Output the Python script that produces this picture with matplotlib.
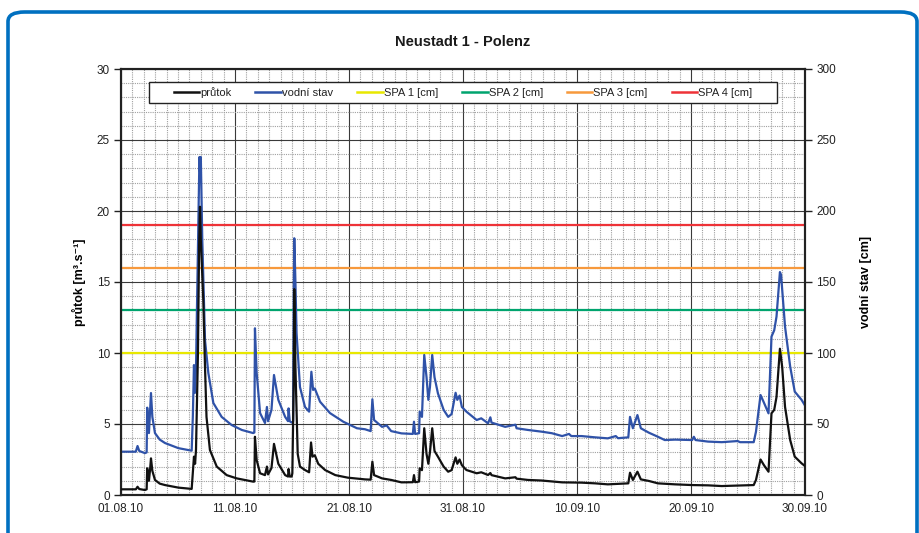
import numpy as np
import pandas as pd
import matplotlib
matplotlib.use('Agg')
import matplotlib.pyplot as plt
import matplotlib.dates as mdates
from matplotlib.patches import FancyBboxPatch, Rectangle
from matplotlib.ticker import MultipleLocator
from matplotlib.lines import Line2D

plt.rcParams['font.family'] = ['Liberation Sans', 'DejaVu Sans']

start = pd.Timestamp('2010-08-01')

# vodní stav [cm] : day offsets from 01.08.2010 and values
stav_days = [0, 1.3, 1.45, 1.6, 2.1, 2.25, 2.3, 2.45, 2.55, 2.63, 2.75, 2.98, 3.4, 3.86, 5.03, 6.2,
             6.3, 6.4, 6.5, 6.58, 6.8, 6.88, 6.95, 7.0, 7.13, 7.37, 7.66, 8.1, 8.83, 9.7, 10.6, 11.6,
             11.7, 11.75, 11.9, 12.2, 12.63, 12.8, 12.9, 13.2, 13.42, 13.8, 14.4, 14.65, 14.7, 14.8,
             14.97, 15.1, 15.15, 15.2, 15.3, 15.4, 15.7, 16.14, 16.5, 16.7, 16.85, 17.0, 17.46, 18.33,
             19.5, 20.7, 21.4, 21.9, 22.05, 22.2, 22.9, 23.3, 23.7, 24.6, 25.6, 25.7, 25.8, 26.15,
             26.2, 26.4, 26.6, 26.8, 26.96, 27.1, 27.3, 27.5, 27.8, 28.3, 28.7, 29.0, 29.35, 29.5,
             29.7, 29.9, 30.3, 31.2, 31.6, 32.2, 32.4, 32.5, 33.7, 34.6, 34.7, 35.7, 36.9, 37.8,
             38.7, 39.3, 39.5, 40.4, 41.6, 42.7, 43.4, 43.6, 44.5, 44.65, 44.9, 45.3, 45.6, 46.3,
             47.1, 47.7, 48.6, 50.1, 50.25, 50.4, 51.5, 52.7, 54.1, 54.3, 55.5, 55.7, 56.1, 56.4,
             56.8, 57.06, 57.3, 57.5, 57.8, 57.9, 58.25, 58.7, 59.1, 59.7, 60]
stav_cm = [30.5, 30.5, 34.5, 31, 29.5, 30, 61.5, 43.6, 60, 71.8, 55, 43.6, 39, 36.6, 33, 31.2,
           55, 91.5, 72, 90, 200, 238, 225, 238, 179.6, 109, 86, 64.8, 55, 49.3, 45.8, 43.6,
           44, 117.4, 86, 57.7, 50.7, 62, 52, 60, 84.5, 67, 55, 52, 61, 52,
           51, 52, 139.7, 180.8, 150, 114, 76, 62, 58.7, 86.8, 74, 75, 65.7, 57.7,
           51.6, 47, 46.3, 45, 67.4, 52.8, 48, 49, 45, 43.4, 43, 51.6, 43, 43.5,
           58.7, 55, 98.6, 83, 67, 76, 98.6, 83, 71.6, 60, 55, 57, 72, 67,
           70, 62, 58.7, 52.8, 54, 50.5, 54.7, 51, 48, 49.5, 47, 45.8, 44.6, 43.5,
           41.5, 43, 41.5, 41.5, 40.6, 39.9, 41.5, 40, 40.6, 55, 47, 56.3, 47, 43.9,
           41, 38.7, 39, 38.7, 41, 38.7, 37.6, 37.2, 38, 37.2, 37.2, 44.6, 70.4, 65,
           57.5, 111.5, 116, 125.6, 157, 155, 118.5, 90.4, 72.8, 67, 63]

# průtok [m3/s]
prutok_days = [0, 1.3, 1.45, 1.6, 2.1, 2.25, 2.3, 2.45, 2.55, 2.63, 2.75, 2.98, 3.4, 3.86, 5.03, 6.2,
               6.3, 6.4, 6.5, 6.58, 6.75, 6.85, 6.93, 7.0, 7.22, 7.37, 7.5, 7.8, 8.4, 9.27, 10.15, 11.6,
               11.7, 11.75, 11.9, 12.2, 12.63, 12.8, 12.9, 13.2, 13.42, 13.8, 14.4, 14.65, 14.7, 14.8,
               14.97, 15.03, 15.15, 15.2, 15.3, 15.5, 15.7, 16.14, 16.5, 16.67, 16.8, 17.0, 17.3, 17.9,
               18.8, 19.9, 21.4, 21.9, 22.05, 22.2, 22.9, 23.7, 24.6, 25.6, 25.7, 25.8, 26.15, 26.2,
               26.4, 26.6, 26.8, 26.96, 27.1, 27.3, 27.5, 27.8, 28.3, 28.7, 29.0, 29.35, 29.5, 29.7,
               29.9, 30.3, 31.2, 31.6, 32.2, 32.4, 32.5, 33.7, 34.6, 34.7, 35.7, 36.9, 38.7, 40.4,
               41.6, 42.7, 44.5, 44.65, 44.9, 45.3, 45.6, 46.3, 47.1, 48.6, 50.1, 51.5, 52.7, 55.5,
               55.7, 56.1, 56.4, 56.8, 57.06, 57.3, 57.5, 57.8, 58.0, 58.25, 58.7, 59.1, 59.7, 60]
prutok_val = [0.4, 0.4, 0.58, 0.42, 0.35, 0.4, 1.88, 1.0, 1.8, 2.58, 1.7, 1.06, 0.8, 0.7, 0.52, 0.43,
              1.53, 2.7, 2.2, 3.2, 10, 17.5, 20.3, 18, 13.7, 9, 5.5, 3.17, 2.0, 1.4, 1.17, 0.94,
              0.95, 4.1, 2.46, 1.53, 1.4, 2.0, 1.45, 1.9, 3.6, 2.2, 1.4, 1.3, 1.83, 1.3,
              1.3, 1.53, 8, 14.5, 9, 2.9, 2.0, 1.76, 1.6, 3.7, 2.7, 2.8, 2.2, 1.76,
              1.4, 1.22, 1.1, 1.08, 2.35, 1.4, 1.17, 1.06, 0.89, 0.9, 1.4, 0.9, 0.95, 1.88,
              1.75, 4.7, 2.9, 2.2, 3.0, 4.7, 3.1, 2.7, 2.0, 1.64, 1.75, 2.65, 2.2, 2.5,
              2.1, 1.76, 1.53, 1.6, 1.41, 1.55, 1.4, 1.17, 1.25, 1.15, 1.06, 1.02, 0.89, 0.87,
              0.82, 0.75, 0.82, 1.57, 1.06, 1.64, 1.1, 0.99, 0.82, 0.75, 0.7, 0.68, 0.63, 0.7,
              1.06, 2.5, 2.1, 1.64, 5.75, 6.0, 6.9, 10.3, 9.0, 6.2, 3.87, 2.7, 2.23, 2.04]

spa_levels = [100, 130, 160, 190]
spa_labels = ['SPA 1 [cm]', 'SPA 2 [cm]', 'SPA 3 [cm]', 'SPA 4 [cm]']
spa_colors = ['#E8E800', '#00A46E', '#F7993C', '#EE3338']

title = 'Neustadt 1 - Polenz'
left_label = 'průtok [m³.s⁻¹]'
right_label = 'vodní stav [cm]'
x_start, x_end = '2010-08-01', '2010-09-30'

t_stav = start + pd.to_timedelta(stav_days, unit='D')
t_prutok = start + pd.to_timedelta(prutok_days, unit='D')

fig = plt.figure(figsize=(9.19, 5.33), dpi=100)
W, H = 919, 533

# blue rounded frame
frame = FancyBboxPatch((8 / W, 1 - 560 / H), (917 - 8) / W, (560 - 12) / H,
                       boxstyle='round,pad=0,rounding_size=0.018',
                       transform=fig.transFigure, fill=False, edgecolor='#0070C0',
                       linewidth=2.6, clip_on=False)
fig.patches.append(frame)

ax = fig.add_axes([121 / W, 1 - 495 / H, (805 - 121) / W, (495 - 69) / H])
ax2 = ax.twinx()
ax.set_zorder(ax2.get_zorder() + 1)
ax.patch.set_visible(False)
ax2.xaxis.set_visible(True)

ax2.set_ylim(0, 300)
ax.set_ylim(0, 30)
ax.set_xlim(pd.Timestamp(x_start), pd.Timestamp(x_end))

ax2.yaxis.set_major_locator(MultipleLocator(50))
ax2.yaxis.set_minor_locator(MultipleLocator(10))
ax.yaxis.set_major_locator(MultipleLocator(5))
ax.xaxis.set_major_locator(mdates.DayLocator(interval=10))
ax.xaxis.set_minor_locator(mdates.DayLocator(interval=1))
ax.xaxis.set_major_formatter(mdates.DateFormatter('%d.%m.%y'))

# gridlines on the lower axes
ax2.set_axisbelow(True)
grid_minor = dict(color='#a0a0a0', linestyle=(0, (1, 1)), linewidth=0.8)
grid_major = dict(color='#3a3a3a', linestyle='-', linewidth=0.8)
ax2.yaxis.grid(True, which='minor', **grid_minor)
ax2.yaxis.grid(True, which='major', **grid_major)
ax2.xaxis.grid(True, which='minor', **grid_minor)
ax2.xaxis.grid(True, which='major', **grid_major)
ax2.tick_params(axis='x', which='both', length=0, labelbottom=False)

for lvl, c in zip(spa_levels, spa_colors):
    ax2.axhline(lvl, color=c, linewidth=1.6, zorder=2)

ax2.plot(t_stav, stav_cm, color='#2F52A8', linewidth=1.6, zorder=3)
ax.plot(t_prutok, prutok_val, color='#111111', linewidth=1.6, zorder=3)

for a in (ax, ax2):
    for s in a.spines.values():
        s.set_linewidth(1.5)
        s.set_color('#222222')

ax.tick_params(axis='y', which='major', direction='out', length=5, width=1, labelsize=8.5,
               colors='#222222', pad=3)
ax2.tick_params(axis='y', which='major', direction='out', length=5, width=1, labelsize=8.5,
                colors='#222222', pad=3)
ax2.tick_params(axis='y', which='minor', length=0)
ax.tick_params(axis='x', which='major', direction='out', length=0, labelsize=8.5,
               colors='#222222', pad=6)
ax.tick_params(axis='x', which='minor', length=0)

ax.set_ylabel(left_label, fontsize=9, fontweight='bold', labelpad=8)
ax2.set_ylabel(right_label, fontsize=9, fontweight='bold', labelpad=17)
fig.text(463 / W, 1 - 42 / H, title, fontsize=10.5, fontweight='bold', ha='center', va='center',
         color='#1a1a1a')

# legend box (white, framed) and entries
lx0, lx1, ly0, ly1 = 149, 777, 82, 103
box = Rectangle(((lx0 - 121) / 684, (495 - ly1) / 426), (lx1 - lx0) / 684, (ly1 - ly0) / 426,
                transform=ax.transAxes, facecolor='white', edgecolor='#222222', linewidth=1.0,
                zorder=9, clip_on=False)
ax.add_patch(box)
handles = [Line2D([], [], color='#111111', lw=1.8), Line2D([], [], color='#2F52A8', lw=1.8)]
handles += [Line2D([], [], color=c, lw=1.8) for c in spa_colors]
labels = ['průtok', 'vodní stav'] + spa_labels
leg = ax.legend(handles, labels, loc='center',
                bbox_to_anchor=(((lx0 + lx1) / 2 - 121) / 684, (495 - (ly0 + ly1) / 2) / 426),
                ncol=6, fontsize=8, frameon=False, handlelength=2.3, handletextpad=0.1,
                columnspacing=2.15, borderpad=0.2)
leg.set_zorder(10)
for txt in leg.get_texts():
    txt.set_color('#222222')

fig.savefig('out.png', dpi=100)
